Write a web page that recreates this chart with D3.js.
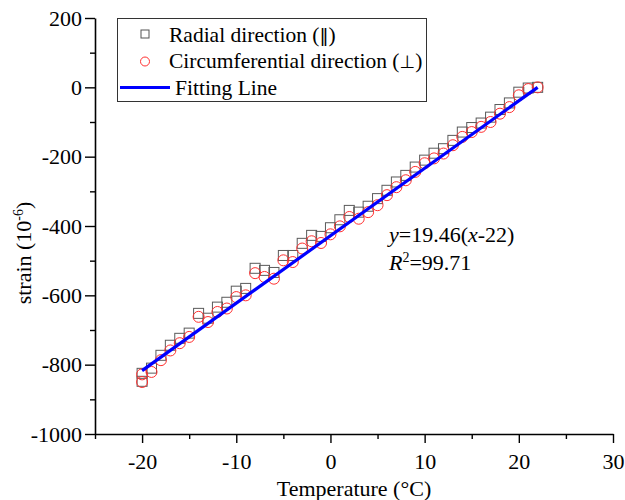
<!DOCTYPE html>
<html><head><meta charset="utf-8">
<script src="https://cdn.jsdelivr.net/npm/d3@7"></script>
<style>body{margin:0;background:#fff}svg{display:block}text{font-family:"Liberation Serif","Times New Roman",serif;fill:#000}</style>
</head><body>
<svg id="c" width="625" height="500"></svg>
<script>
const temps = [-20,-20,-19,-18,-17,-16,-15,-14,-13,-12,-11,-10,-9,-8,-7,-6,-5,-4,-3,-2,-1,0,1,2,3,4,5,6,7,8,9,10,11,12,13,14,15,16,17,18,19,20,21,22];
const radial = [-825,-848,-810,-773,-744,-724,-709,-652,-666,-634,-620,-588,-580,-522,-528,-534,-485,-485,-450,-427,-430,-405,-382,-355,-360,-343,-321,-297,-273,-254,-230,-210,-190,-177,-153,-129,-116,-103,-86,-64,-45,-14,-2,0];
const circumferential = [-828,-850,-821,-787,-759,-738,-720,-662,-677,-648,-638,-605,-600,-536,-547,-552,-499,-504,-465,-444,-449,-424,-401,-374,-379,-360,-340,-311,-288,-268,-244,-219,-205,-191,-167,-143,-129,-114,-100,-76,-57,-23,-5,0];
const fitSlope = 19.46, fitT0 = 22;
const fitRange = [-20, 22];
const xTicks = [-20,-10,0,10,20,30];
const xMinor = [-25,-15,-5,5,15,25];
const yTicks = [-1000,-800,-600,-400,-200,0,200];
const yMinor = [-900,-700,-500,-300,-100,100];

const svg = d3.select("#c");
const x = d3.scaleLinear().domain([-25,30]).range([95,613]);
const y = d3.scaleLinear().domain([-1000,200]).range([434,18]);
const fmt = d => String(d);

// axes
const gx = svg.append("g").attr("transform","translate(0,434)");
gx.call(d3.axisBottom(x).tickValues(xTicks).tickFormat(fmt).tickSize(9).tickSizeOuter(0).tickPadding(5));
const gxm = svg.append("g").attr("transform","translate(0,434)");
gxm.call(d3.axisBottom(x).tickValues(xMinor).tickSize(5).tickFormat("").tickSizeOuter(0));
gxm.select(".domain").remove();
const gy = svg.append("g").attr("transform","translate(95,0)");
gy.call(d3.axisLeft(y).tickValues(yTicks).tickFormat(fmt).tickSize(10).tickSizeOuter(0).tickPadding(3));
const gym = svg.append("g").attr("transform","translate(95,0)");
gym.call(d3.axisLeft(y).tickValues(yMinor).tickSize(5).tickFormat("").tickSizeOuter(0));
gym.select(".domain").remove();
svg.selectAll(".domain").attr("stroke","#000").attr("stroke-width",1.6);
svg.selectAll(".tick line").attr("stroke","#000").attr("stroke-width",1.4);
svg.selectAll(".tick text").style("font-family",'"Liberation Serif",serif').style("font-size","22px").attr("fill","#000");
gx.selectAll(".tick text").attr("dy","0.95em");

// markers
const sq = 10;
svg.append("g").selectAll("rect").data(temps.map((t,i)=>[t,radial[i]])).join("rect")
  .attr("x",d=>x(d[0])-sq/2).attr("y",d=>y(d[1])-sq/2).attr("width",sq).attr("height",sq)
  .attr("fill","none").attr("stroke","#5a5a5a").attr("stroke-width",1);
svg.append("g").selectAll("circle").data(temps.map((t,i)=>[t,circumferential[i]])).join("circle")
  .attr("cx",d=>x(d[0])).attr("cy",d=>y(d[1])).attr("r",5.5)
  .attr("fill","none").attr("stroke","#ff3030").attr("stroke-width",1);

// fit line
const line = d3.line().x(d=>x(d)).y(d=>y(fitSlope*(d-fitT0)));
svg.append("path").attr("d",line(fitRange)).attr("stroke","#0000ff").attr("stroke-width",3.2).attr("fill","none");

// legend
svg.append("rect").attr("x",117.5).attr("y",18.5).attr("width",309).attr("height",83).attr("fill","#fff").attr("stroke","#333").attr("stroke-width",1);
svg.append("rect").attr("x",145-4).attr("y",34-4).attr("width",8).attr("height",8).attr("fill","none").attr("stroke","#555");
svg.append("circle").attr("cx",145).attr("cy",61.5).attr("r",4.5).attr("fill","none").attr("stroke","#ff3030");
svg.append("line").attr("x1",120).attr("x2",170).attr("y1",87.5).attr("y2",87.5).attr("stroke","#0000ff").attr("stroke-width",3.2);
const t1 = svg.append("text").attr("x",169).attr("y",42).style("font-size","21.5px");
t1.append("tspan").text("Radial direction (");
t1.append("tspan").style("font-family",'"DejaVu Sans"').style("font-size","18px").text("\u2016");
t1.append("tspan").text(")");
const t2 = svg.append("text").attr("x",169).attr("y",68).style("font-size","21.5px");
t2.append("tspan").text("Circumferential direction (");
t2.append("tspan").style("font-family",'"DejaVu Sans"').style("font-size","18px").text("\u22a5");
t2.append("tspan").text(")");
svg.append("text").attr("x",175).attr("y",95).style("font-size","21.5px").text("Fitting Line");

// equation
const eq = svg.append("text").attr("x",389).attr("y",242).style("font-size","22px");
eq.append("tspan").style("font-style","italic").text("y");
eq.append("tspan").text("=19.46(");
eq.append("tspan").style("font-style","italic").text("x");
eq.append("tspan").text("-22)");
const r2 = svg.append("text").attr("x",389).attr("y",270).style("font-size","22px");
r2.append("tspan").style("font-style","italic").text("R");
r2.append("tspan").attr("dy",-8).style("font-size","14px").text("2");
r2.append("tspan").attr("dy",8).text("=99.71");

// axis titles
svg.append("text").attr("x",354).attr("y",496).attr("text-anchor","middle").style("font-size","22px").text("Temperature (\u00b0C)");
const yl = svg.append("text").attr("transform","translate(31,253) rotate(-90)").attr("text-anchor","middle").style("font-size","22px");
yl.append("tspan").text("strain (10");
yl.append("tspan").attr("dy",-8).style("font-size","14px").text("-6");
yl.append("tspan").attr("dy",8).text(")");
</script>
</body></html>
